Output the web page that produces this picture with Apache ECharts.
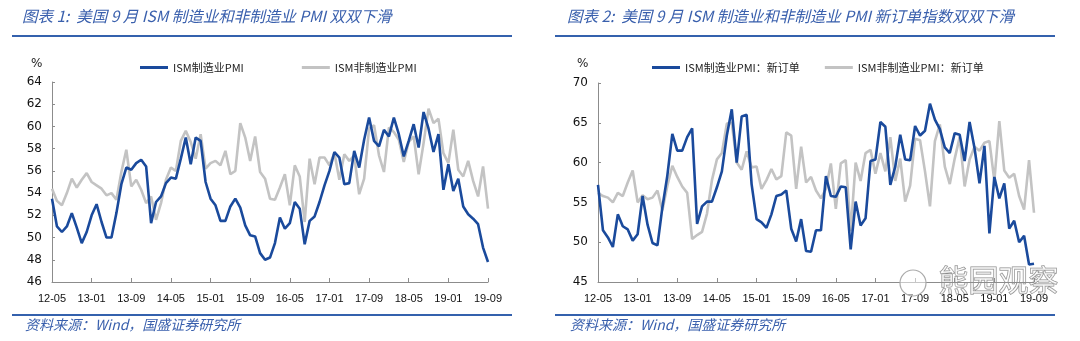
<!DOCTYPE html>
<html><head><meta charset="utf-8">
<script src="https://cdn.jsdelivr.net/npm/echarts@6/dist/echarts.min.js"></script>
<style>html,body{margin:0;padding:0;background:#fff}#c{width:1080px;height:341px}</style>
</head><body><div id="c"></div>
<script>
// months 2012-05 .. 2019-09
const months = [];
for (let y = 2012; y <= 2019; y++) {
  for (let m = 1; m <= 12; m++) {
    if (y === 2012 && m < 5) continue;
    if (y === 2019 && m > 9) continue;
    months.push(String(y).slice(2) + '-' + String(m).padStart(2, '0'));
  }
}
const ismMfg = [
  53.5, 51.0, 50.5, 51.0, 52.2, 50.9, 49.5, 50.5,
  52.0, 53.0, 51.4, 50.0, 50.0, 52.2, 54.8, 56.3, 56.1, 56.7, 57.0, 56.4,
  51.3, 53.2, 53.7, 54.9, 55.4, 55.3, 57.1, 59.0, 56.6, 59.0, 58.7, 55.0,
  53.5, 52.9, 51.5, 51.5, 52.8, 53.5, 52.7, 51.1, 50.2, 50.1, 48.6, 48.0,
  48.2, 49.5, 51.8, 50.8, 51.3, 53.2, 52.6, 49.4, 51.5, 51.9, 53.2, 54.7,
  56.0, 57.7, 57.2, 54.8, 54.9, 57.8, 56.3, 58.8, 60.8, 58.7, 58.2, 59.7,
  59.1, 60.8, 59.3, 57.3, 58.7, 60.2, 58.1, 61.3, 59.8, 57.7, 59.3, 54.3,
  56.6, 54.2, 55.3, 52.8, 52.1, 51.7, 51.2, 49.1, 47.8
];
const ismNonMfg = [
  54.4, 53.3, 52.9, 54.0, 55.3, 54.5, 55.2, 55.8,
  55.0, 54.7, 54.4, 53.8, 54.0, 53.4, 55.9, 57.9, 54.6, 55.2, 54.3, 53.1,
  53.7, 51.6, 53.1, 55.2, 56.3, 56.0, 58.7, 59.6, 58.6, 57.1, 59.3, 56.2,
  56.7, 56.9, 56.5, 57.8, 55.7, 56.0, 60.3, 59.0, 56.9, 59.1, 55.9, 55.3,
  53.5, 53.4, 54.5, 55.7, 52.9, 56.5, 55.5, 51.4, 57.1, 54.8, 57.2, 57.2,
  56.5, 57.6, 55.2, 57.5, 56.9, 57.4, 53.9, 55.3, 59.8, 60.1, 57.4, 55.9,
  59.9, 59.5, 58.8, 56.8, 58.6, 59.1, 55.7, 58.5, 61.6, 60.3, 60.7, 57.6,
  56.7, 59.7, 56.1, 55.5, 56.9, 55.1, 53.7, 56.4, 52.6
];
const mfgNewOrders = [
  57.2, 51.5, 50.6, 49.4, 53.5, 52.0, 51.6, 50.2,
  51.0, 55.8, 52.2, 49.9, 49.6, 54.4, 58.4, 63.6, 61.5, 61.5, 63.2, 64.3,
  52.3, 54.5, 55.1, 55.1, 56.9, 58.9, 63.4, 66.7, 60.0, 65.8, 66.0, 57.3,
  52.9, 52.5, 51.8, 53.5, 55.8, 56.0, 56.5, 51.7, 50.1, 52.9, 48.9, 48.8,
  51.5, 51.5, 58.3, 55.8, 55.7, 57.0, 56.9, 49.1, 55.1, 52.1, 53.0, 60.2,
  60.4, 65.1, 64.5, 57.2, 59.5, 63.5, 60.4, 60.3, 64.6, 63.4, 64.0, 67.4,
  65.4, 64.2, 61.9, 61.2, 63.7, 63.5, 60.2, 65.1, 61.8, 57.4, 62.1, 51.1,
  58.2, 55.5, 57.4, 51.7, 52.7, 50.0, 50.8, 47.2, 47.3
];
const nonMfgNewOrders = [
  56.2, 55.8, 55.6, 55.0, 56.2, 55.8, 57.5, 59.0,
  55.0, 55.9, 55.4, 55.6, 56.5, 54.0, 57.1, 59.6, 58.2, 57.0, 56.2, 50.4,
  50.9, 51.3, 53.6, 57.8, 60.4, 61.2, 64.9, 65.0, 60.0, 59.1, 61.4, 59.4,
  59.5, 56.7, 57.8, 59.2, 57.9, 58.3, 63.8, 63.4, 56.7, 62.0, 57.5, 58.2,
  56.5, 55.5, 56.7, 59.9, 54.2, 59.9, 60.3, 51.4, 60.0, 57.7, 61.2, 61.6,
  58.6, 61.2, 58.9, 63.2, 57.7, 60.5, 55.1, 57.1, 63.0, 62.8, 58.9, 54.5,
  62.7, 64.8, 59.5, 57.3, 60.5, 63.2, 57.0, 60.4, 62.0, 61.5, 62.5, 62.7,
  57.7, 65.2, 59.0, 58.1, 58.6, 55.8, 54.1, 60.3, 53.7
];
const leftTicks = [46, 64, 2];
const rightTicks = [45, 70, 5];

const BLUE = '#1a4a9c', GRAY = '#c3c3c3', RULE = '#3461ad', TITLE = '#3a60ad';
const cjk = '"Noto Sans CJK SC", sans-serif';
const num = '"Liberation Sans", Arial, sans-serif';

function xAxis(gi) {
  return {
    type: 'category', gridIndex: gi, data: months, boundaryGap: false,
    axisLine: { lineStyle: { color: '#8c8c8c', width: 1 } },
    axisTick: { inside: true, length: 4, interval: 7, lineStyle: { color: '#8c8c8c' } },
    axisLabel: { interval: 7, color: '#111', fontFamily: num, fontSize: 11, margin: 11 },
    splitLine: { show: false }
  };
}
function yAxis(gi, t) {
  return {
    type: 'value', gridIndex: gi, min: t[0], max: t[1], interval: t[2],
    axisLine: { show: true, lineStyle: { color: '#8c8c8c', width: 1 } },
    axisTick: { show: true, inside: true, length: 3, lineStyle: { color: '#8c8c8c' } },
    axisLabel: { color: '#111', fontFamily: '"DejaVu Sans", sans-serif', fontSize: 12, margin: 10 },
    splitLine: { show: false }
  };
}
function line(name, data, color, xi) {
  return {
    name, type: 'line', data, xAxisIndex: xi, yAxisIndex: xi,
    symbol: 'none', smooth: false, lineStyle: { color, width: 2.6 }, itemStyle: { color },
    z: color === BLUE ? 3 : 2, animation: false
  };
}
function rule(x1, x2, y) {
  return { type: 'line', shape: { x1, y1: y, x2, y2: y }, style: { stroke: RULE, lineWidth: 2 } };
}
function txt(x, y, text, opts) {
  return { type: 'text', left: x, top: y, style: Object.assign({ text, fill: TITLE, font: 'italic 15.5px ' + cjk }, opts || {}) };
}

const chart = echarts.init(document.getElementById('c'), null, { renderer: 'canvas' });
chart.setOption({
  animation: false,
  grid: [
    { left: 52, top: 82, width: 436, height: 200 },
    { left: 598, top: 83, width: 436, height: 199 }
  ],
  xAxis: [xAxis(0), xAxis(1)],
  yAxis: [yAxis(0, leftTicks), yAxis(1, rightTicks)],
  legend: [
    { left: 135, top: 57, icon: 'rect', itemWidth: 28, itemHeight: 3, itemGap: 58,
      textStyle: { fontFamily: cjk, fontSize: 11, color: '#222' },
      data: ['ISM制造业PMI', 'ISM非制造业PMI'] },
    { left: 647, top: 57, icon: 'rect', itemWidth: 28, itemHeight: 3, itemGap: 25,
      textStyle: { fontFamily: cjk, fontSize: 11, color: '#222' },
      data: ['ISM制造业PMI：新订单', 'ISM非制造业PMI：新订单'] }
  ],
  series: [
    line('ISM非制造业PMI', ismNonMfg, GRAY, 0),
    line('ISM制造业PMI', ismMfg, BLUE, 0),
    line('ISM非制造业PMI：新订单', nonMfgNewOrders, GRAY, 1),
    line('ISM制造业PMI：新订单', mfgNewOrders, BLUE, 1)
  ],
  graphic: [
    txt(22, 8, '图表 1:  美国 9 月 ISM 制造业和非制造业 PMI 双双下滑'),
    txt(567, 8, '图表 2:  美国 9 月 ISM 制造业和非制造业 PMI 新订单指数双双下滑'),
    rule(12, 512, 36), rule(555, 1055, 36),
    rule(12, 512, 315), rule(555, 1055, 315),
    txt(25, 318, '资料来源：Wind，国盛证券研究所', { font: 'italic 14px ' + cjk }),
    txt(570, 318, '资料来源：Wind，国盛证券研究所', { font: 'italic 14px ' + cjk }),
    txt(31, 58, '%', { fill: '#222', font: '12px "DejaVu Sans", sans-serif' }),
    txt(577, 58, '%', { fill: '#222', font: '12px "DejaVu Sans", sans-serif' }),
    { type: 'circle', shape: { cx: 913, cy: 283, r: 13 }, style: { fill: 'rgba(255,255,255,0.5)', stroke: '#aaa', lineWidth: 1.2 }, z: 10 },
    txt(938, 264, '熊园观察', { fill: 'rgba(255,255,255,0.55)', stroke: '#8a8a8a', lineWidth: 1, font: '30px ' + cjk })
  ]
});
</script></body></html>
